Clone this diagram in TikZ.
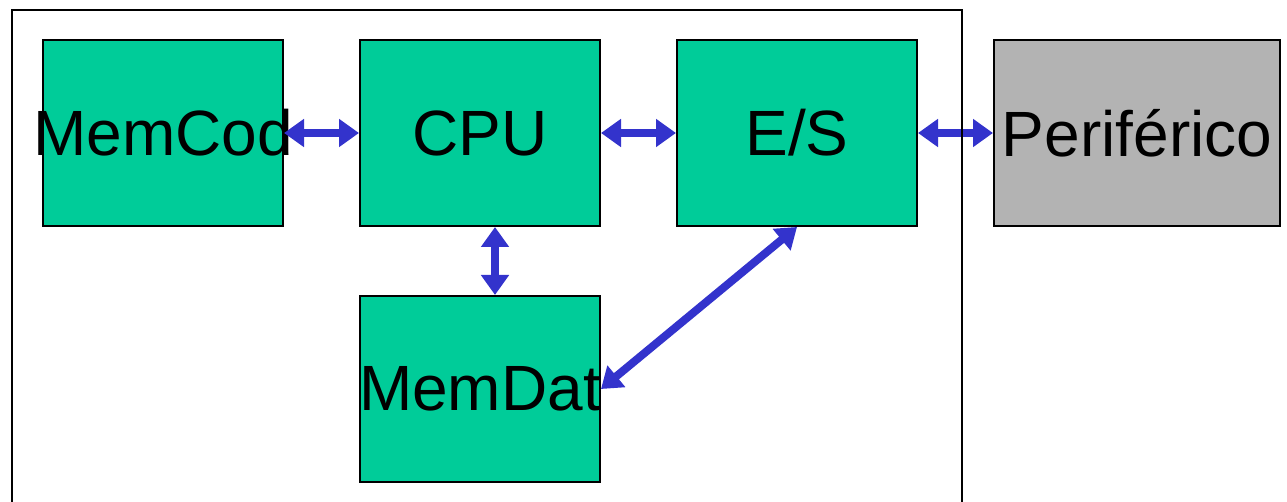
\documentclass[tikz,border=0pt]{standalone}
\usepackage{fontspec}
\setmainfont{Liberation Sans}
\usepackage{tikz}
\usetikzlibrary{positioning,arrows.meta}
\definecolor{boxgreen}{HTML}{00CC99}
\definecolor{perigray}{HTML}{B3B3B3}
\definecolor{linkblue}{HTML}{3333CC}

\begin{document}
\begin{tikzpicture}[x=1pt, y=1pt,
  font=\fontsize{64}{70}\selectfont,
  unit/.style={draw, line width=2pt, fill=boxgreen, minimum width=240pt, minimum height=186pt, inner sep=0pt},
  link/.style={{Triangle[length=20pt,width=27pt]}-{Triangle[length=20pt,width=27pt]}, line width=8pt, linkblue},
  node distance=75pt]
\useasboundingbox (0,0) rectangle (1287,-502);
\node[unit] (cod) at (163,-133) {\makebox[0pt]{MemCod}};
\node[unit, right=of cod] (cpu) {\makebox[0pt]{CPU}};
\node[unit, right=of cpu] (es) {\makebox[0pt]{E/S}};
\node[unit, fill=perigray, minimum width=286pt, right=of es] (peri) {\makebox[0pt]{Periférico}};
\node[unit, below=68pt of cpu] (dat) {\makebox[0pt]{MemDat}};
\foreach \a/\b in {cod/cpu, cpu/es, es/peri} \draw[link] (\a.east) -- (\b.west);
\draw[link] ([xshift=15pt]cpu.south) -- ([xshift=15pt]dat.north);
\draw[link] (es.south) -- (dat.east);
% board outline
\draw[line width=2pt] (12,-510) |- (962,-10) -- (962,-510);
\end{tikzpicture}
\end{document}
